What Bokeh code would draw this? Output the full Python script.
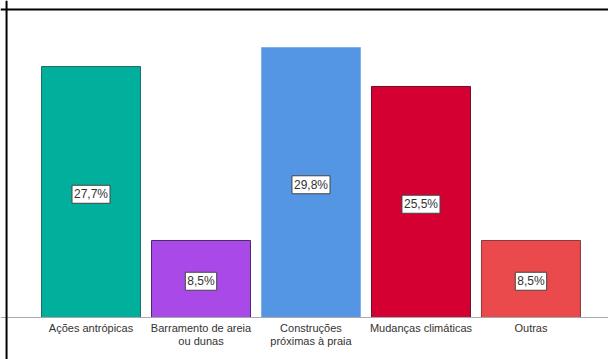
from bokeh.plotting import figure
from bokeh.models import ColumnDataSource, Label, Range1d, Span
from bokeh.core.properties import value
from bokeh.embed import file_html
from bokeh.resources import INLINE

categories = ["Ações antrópicas", "Barramento de areia\nou dunas", "Construções\npróximas à praia",
              "Mudanças climáticas", "Outras"]
values = [27.7, 8.5, 29.8, 25.5, 8.5]
labels = ["27,7%", "8,5%", "29,8%", "25,5%", "8,5%"]
colors = ["#00b09c", "#a94ae8", "#5596e4", "#d50032", "#ea4a4c"]
edge_colors = ["#1f6e63", "#4a2a70", "#7fb0ee", "#6a1025", "#8a3a3a"]

xs = list(range(len(categories)))
src = ColumnDataSource(dict(x=xs, top=values, color=colors, edge=edge_colors))
cat_src = ColumnDataSource(dict(x=xs, y=[-0.45] * len(xs), text=categories))

p = figure(width=608, height=359, output_backend="svg", toolbar_location=None,
           x_range=Range1d(-0.823, 4.705), y_range=Range1d(-4.636, 34.99),
           min_border_left=0, min_border_right=0, min_border_top=0, min_border_bottom=0)
p.outline_line_color = None
p.xgrid.visible = False
p.ygrid.visible = False
p.xaxis.visible = False
p.yaxis.visible = False

p.vbar(x="x", top="top", width=0.9, bottom=0, fill_color="color", line_color="edge",
       line_width=1, source=src)

p.add_layout(Span(location=0, dimension="width", line_color="#aaaaaa", line_width=1))

p.text(x="x", y="y", text="text", source=cat_src, text_align="center", text_baseline="top",
       text_font_size="11px", text_font=value("Liberation Sans"), text_color="#333333",
       text_line_height=1.15)

for x, v, lab in zip(xs, values, labels):
    p.add_layout(Label(x=x, y=v / 2 - 0.25, text=lab, text_align="center",
                       text_baseline="middle", text_font_size="12px", text_font="Liberation Sans",
                       text_color="#333333", background_fill_color="white",
                       border_line_color="#444444", border_line_width=1, padding=2))

p.add_layout(Span(location=34.0, dimension="width", line_color="black", line_width=2))
p.add_layout(Span(location=-0.768, dimension="height", line_color="black", line_width=2))

open("out.html", "w").write(file_html(p, INLINE))
